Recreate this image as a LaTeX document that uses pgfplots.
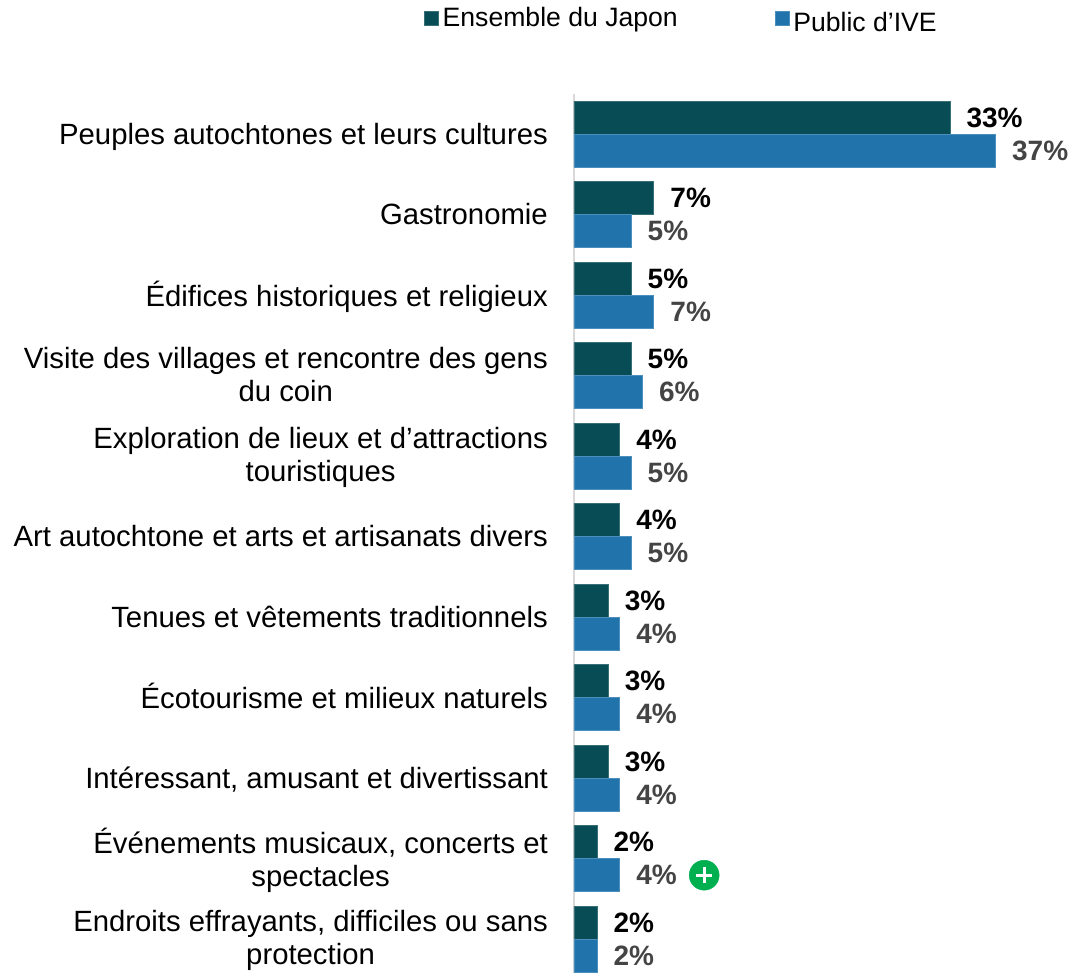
\documentclass[border=0pt]{standalone}
\usepackage{pgfplots}
\pgfplotsset{compat=1.18}
\usepackage{fontspec}
\setmainfont{Liberation Sans}
\definecolor{cdark}{HTML}{084C55}
\definecolor{cblue}{HTML}{2073AB}
\definecolor{cgrey}{HTML}{444444}
\definecolor{cgreen}{HTML}{00B050}
\definecolor{caxis}{HTML}{D9D9D9}
\begin{document}
\begin{tikzpicture}[x=1pt,y=1pt]
\useasboundingbox (0,0) rectangle (1074,973);
\begin{axis}[
  at={(574pt,0pt)}, anchor=south west,
  scale only axis, width=500pt, height=879pt,
  xmin=0, xmax=43.9,
  ymin=-0.5, ymax=10.42, y dir=reverse,
  clip=false,
  axis x line=none,
  axis y line*=left,
  axis line style={draw=caxis, line width=2pt, -},
  ytick={0,1,2,3,4,5,6,7,8,9,10},
  major tick length=0pt,
  yticklabels={
    {Peuples autochtones et leurs cultures},
    {Gastronomie},
    {Édifices historiques et religieux},
    {Visite des villages et rencontre des gens\\du coin},
    {Exploration de lieux et d’attractions\\touristiques},
    {Art autochtone et arts et artisanats divers},
    {Tenues et vêtements traditionnels},
    {Écotourisme et milieux naturels},
    {Intéressant, amusant et divertissant},
    {Événements musicaux, concerts et\\spectacles},
    {Endroits effrayants, difficiles ou sans\\protection}},
  y tick label style={anchor=east, align=center, inner sep=0pt, xshift=-26pt, yshift=-3.5pt,
    execute at begin node=\strut, execute at end node=\strut,
    font=\fontsize{29.3}{33}\selectfont},
  legend columns=2,
  legend cell align=left,
  legend style={draw=none, fill=none, at={(-0.3,1.0865)}, anchor=west, inner sep=0pt,
    font=\fontsize{26.6}{33}\selectfont,
    nodes={inner xsep=4pt},
    /tikz/every even column/.append style={column sep=93pt}},
  legend image code/.code={\fill[#1] (0pt,-7pt) rectangle (14pt,7pt);},
  every node near coord/.append style={anchor=west, inner sep=0pt, xshift=16.5pt,
    font=\fontsize{28}{33}\selectfont\bfseries},
  nodes near coords={\pgfmathprintnumber[assume math mode=true]{\pgfplotspointmeta}\%},
]
\addplot[xbar, bar width=33pt, bar shift=16.5pt, fill=cdark, draw=cdark!80!white, line width=0.5pt,
  point meta=x, every node near coord/.append style={text=black, yshift=16.5pt}]
  coordinates {(33,0) (7,1) (5,2) (5,3) (4,4) (4,5) (3,6) (3,7) (3,8) (2,9) (2,10)};
\addlegendentry{Ensemble du Japon}
\addplot[xbar, bar width=33pt, bar shift=-16.5pt, fill=cblue, draw=cblue!80!white, line width=0.5pt,
  point meta=x, every node near coord/.append style={text=cgrey, yshift=-16.5pt}]
  coordinates {(37,0) (5,1) (7,2) (6,3) (5,4) (5,5) (4,6) (4,7) (4,8) (4,9) (2,10)};
\addlegendentry{\raisebox{0pt}[29pt][6pt]{Public d’IVE}}
\addplot[only marks, forget plot, nodes near coords={}, mark=*, mark size=15pt, mark options={fill=cgreen, draw=cgreen}]
  coordinates {(11.43,9.205)};
\addplot[only marks, forget plot, nodes near coords={}, mark=+, mark size=8pt, mark options={draw=white, line width=2.8pt}]
  coordinates {(11.43,9.205)};
\end{axis}
\end{tikzpicture}
\end{document}
